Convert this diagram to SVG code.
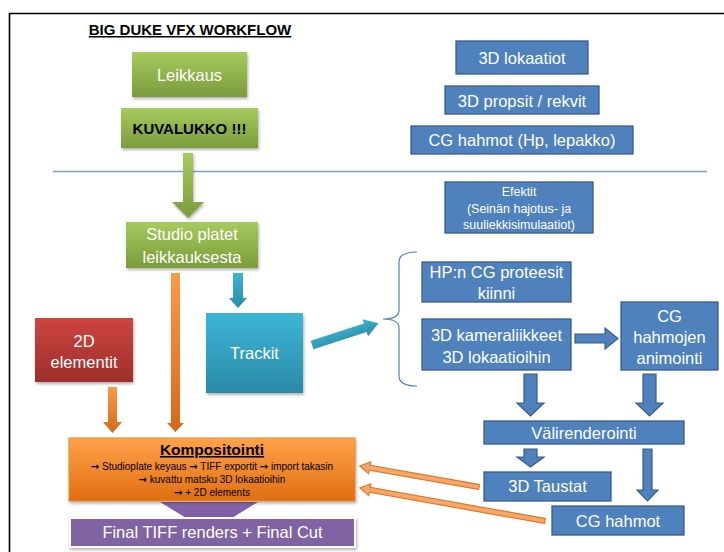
<svg xmlns="http://www.w3.org/2000/svg" width="724" height="552" viewBox="0 0 724 552">
<defs>
<style>
text{font-family:"Liberation Sans",Arial,sans-serif;text-anchor:middle}
.w{fill:#ffffff;font-size:16.5px}
.ar{font-family:"DejaVu Sans",sans-serif;font-weight:bold}
.sub{font-size:10px;fill:#000}
.blue{fill:#4F81BD;stroke:#385D8A;stroke-width:1.3}
.barrow{fill:#4F81BD;stroke:#385D8A;stroke-width:1.2}
.oarrow{fill:#F5A868;stroke:#E0782A;stroke-width:1.2}
</style>
<linearGradient id="gGreen" x1="0" y1="0" x2="0" y2="1"><stop offset="0" stop-color="#A6CB5E"/><stop offset="1" stop-color="#7A9B3C"/></linearGradient>
<linearGradient id="gRed" x1="0" y1="0" x2="0" y2="1"><stop offset="0" stop-color="#CD4541"/><stop offset="1" stop-color="#9E2E2B"/></linearGradient>
<linearGradient id="gCyan" x1="0" y1="0" x2="0" y2="1"><stop offset="0" stop-color="#3DB5D6"/><stop offset="1" stop-color="#2A8AA6"/></linearGradient>
<linearGradient id="gOrange" x1="0" y1="0" x2="0" y2="1"><stop offset="0" stop-color="#FFA24A"/><stop offset="1" stop-color="#E06E12"/></linearGradient>
<linearGradient id="gOrangeArrow" x1="0" y1="0" x2="0" y2="1"><stop offset="0" stop-color="#FB9A45"/><stop offset="1" stop-color="#D56A18"/></linearGradient>
<linearGradient id="gPurple" x1="0" y1="0" x2="0" y2="1"><stop offset="0" stop-color="#8A68B0"/><stop offset="1" stop-color="#6E4F96"/></linearGradient>
<filter id="sh" x="-10%" y="-10%" width="130%" height="140%"><feDropShadow dx="1" dy="2" stdDeviation="1.5" flood-color="#000" flood-opacity="0.3"/></filter>
</defs>
<rect width="724" height="552" fill="#ffffff"/>
<g id="frame" fill="none" stroke="#000" stroke-width="1.6">
<path d="M9.5,552 V13.5 H724"/>
</g>
<line id="divider" x1="53" y1="171.5" x2="707" y2="171.5" stroke="#7F9FCF" stroke-width="1.4"/>
<g id="title"><text x="190" y="35" font-size="15" font-weight="bold" fill="#000" text-decoration="underline">BIG DUKE VFX WORKFLOW</text></g>

<g id="connectors">
<polygon points="183,153 193,153 193,202 204,202 188,218 172,202 183,202" fill="url(#gGreen)" filter="url(#sh)"/>
<polygon points="171,273 180,273 180,423 184,423 175.5,432 167,423 171,423" fill="url(#gOrangeArrow)"/>
<polygon points="108,387 117,387 117,422 122,422 112.5,433 103,422 108,422" fill="url(#gOrangeArrow)"/>
<polygon points="233,273 243,273 243,298 247,298 238,308 229,298 233,298" fill="url(#gCyan)"/>
<polygon transform="translate(312,345) rotate(-18)" points="0,-4.5 56,-4.5 56,-9 70,0 56,9 56,4.5 0,4.5" fill="url(#gCyan)"/>
<path d="M417,252 Q399,252 399,262 V310 Q399,319 383,319 Q399,319 399,328 V376 Q399,386 417,386" fill="none" stroke="#4F81BD" stroke-width="1.2"/>
<polygon class="barrow" points="575,334 605,334 605,328 618,338.5 605,349 605,343 575,343"/>
<polygon class="barrow" points="524,374 537,374 537,403 544,403 530.5,416 517,403 524,403"/>
<polygon class="barrow" points="643,374 656,374 656,403 663,403 649.5,416 636,403 643,403"/>
<polygon class="barrow" points="524,449 537,449 537,457 544,457 530.5,467 517,457 524,457"/>
<polygon class="barrow" points="643,449 652,449 652,490 658,490 647.5,501 637,490 643,490"/>
<polygon class="oarrow" transform="translate(479,487) rotate(190)" points="0,-2.5 111,-2.5 111,-6 121,0 111,6 111,2.5 0,2.5"/>
<polygon class="oarrow" transform="translate(545,521) rotate(190.1)" points="0,-2.5 178,-2.5 178,-6 188,0 178,6 178,2.5 0,2.5"/>
<polygon points="160,502 258,502 209,532" fill="url(#gPurple)"/>
</g>

<g id="leikkaus"><rect x="132" y="52" width="115" height="45" fill="url(#gGreen)" filter="url(#sh)"/><text class="w" x="189.5" y="81" font-size="17">Leikkaus</text></g>
<g id="kuvalukko"><rect x="121" y="108" width="137" height="40" fill="url(#gGreen)" filter="url(#sh)"/><text x="189.5" y="134" font-size="15" font-weight="bold" fill="#000">KUVALUKKO !!!</text></g>

<g id="lokaatiot"><rect class="blue" x="456" y="41" width="132" height="33"/><text class="w" x="522" y="64">3D lokaatiot</text></g>
<g id="propsit"><rect class="blue" x="445" y="86" width="154" height="28"/><text class="w" x="522" y="107">3D propsit / rekvit</text></g>
<g id="hahmot-top"><rect class="blue" x="411" y="126" width="222" height="28"/><text class="w" x="522" y="146">CG hahmot (Hp, lepakko)</text></g>
<g id="efektit"><rect class="blue" x="445" y="182" width="148" height="51"/>
<text x="519" y="196" font-size="12.5" fill="#fff">Efektit</text>
<text x="519" y="212.5" font-size="12.5" fill="#fff">(Seinän hajotus- ja</text>
<text x="519" y="228.5" font-size="12.5" fill="#fff">suuliekkisimulaatiot)</text></g>

<g id="studio"><rect x="126" y="222" width="132" height="46" fill="url(#gGreen)" filter="url(#sh)"/><text class="w" x="192" y="240">Studio platet</text><text class="w" x="192" y="263">leikkauksesta</text></g>
<g id="elementit"><rect x="35" y="318" width="98" height="64" fill="url(#gRed)" filter="url(#sh)"/><text class="w" x="84" y="347">2D</text><text class="w" x="84" y="368">elementit</text></g>
<g id="trackit"><rect x="206" y="313" width="97" height="80" fill="url(#gCyan)" filter="url(#sh)"/><text class="w" x="254.5" y="359" font-size="17">Trackit</text></g>

<g id="proteesit"><rect class="blue" x="422" y="262" width="149" height="40"/><text class="w" x="496.5" y="278">HP:n CG proteesit</text><text class="w" x="496.5" y="299">kiinni</text></g>
<g id="kameraliikkeet"><rect class="blue" x="422" y="319" width="149" height="51"/><text class="w" x="496.5" y="341">3D kameraliikkeet</text><text class="w" x="496.5" y="363">3D lokaatioihin</text></g>
<g id="animointi"><rect class="blue" x="621" y="302" width="97" height="68"/><text class="w" x="669.5" y="322">CG</text><text class="w" x="669.5" y="343">hahmojen</text><text class="w" x="669.5" y="364">animointi</text></g>
<g id="valirenderointi"><rect class="blue" x="484" y="421" width="200" height="23"/><text class="w" x="584" y="439">Välirenderointi</text></g>
<g id="taustat"><rect class="blue" x="484" y="472" width="127" height="29"/><text class="w" x="547.5" y="492">3D Taustat</text></g>
<g id="hahmot-bottom"><rect class="blue" x="552" y="506" width="132" height="29"/><text class="w" x="618" y="527">CG hahmot</text></g>

<g id="kompositointi"><rect x="69" y="438" width="286" height="63" fill="url(#gOrange)" stroke="#E8892F" stroke-width="1" filter="url(#sh)"/>
<text x="212" y="455" font-size="15.5" font-weight="bold" fill="#000" text-decoration="underline">Kompositointi</text>
<text class="sub" x="212" y="470"><tspan class="ar">→</tspan> Studioplate keyaus <tspan class="ar">→</tspan> TIFF exportit <tspan class="ar">→</tspan> import takasin</text>
<text class="sub" x="212" y="483"><tspan class="ar">→</tspan> kuvattu matsku 3D lokaatioihin</text>
<text class="sub" x="212" y="496"><tspan class="ar">→</tspan> + 2D elements</text></g>
<g id="final"><rect x="70" y="518" width="285" height="29" fill="#8064A2" stroke="#ffffff" stroke-width="2" filter="url(#sh)"/><text class="w" x="212.5" y="538" font-size="16">Final TIFF renders + Final Cut</text></g>
</svg>
